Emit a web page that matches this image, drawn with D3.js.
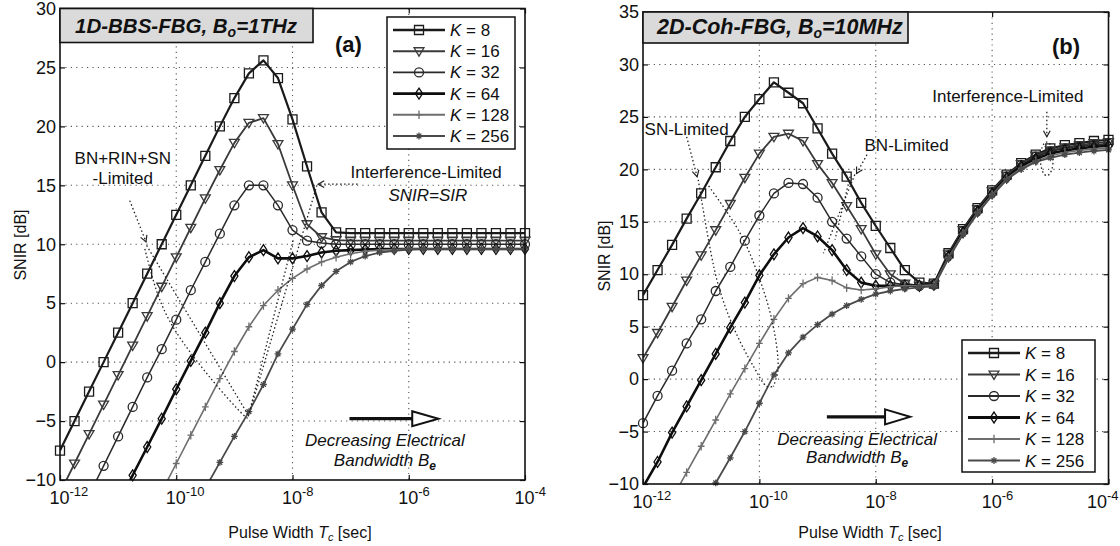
<!DOCTYPE html>
<html><head><meta charset="utf-8">
<script src="https://cdn.jsdelivr.net/npm/d3@7"></script>
<style>
body{margin:0;background:#fff}
svg text{font-family:"Liberation Sans",Arial,sans-serif;fill:#111}
</style>
</head><body>
<svg id="c" width="1120" height="546"></svg>
<script>
// ---------------- DATA ----------------
const tcExp = [-12,-11.75,-11.5,-11.25,-11,-10.75,-10.5,-10.25,-10,-9.75,-9.5,-9.25,-9,-8.75,-8.5,-8.25,-8,-7.75,-7.5,-7.25,-7,-6.75,-6.5,-6.25,-6,-5.75,-5.5,-5.25,-5,-4.75,-4.5,-4.25,-4];
const kLabels = ["8","16","32","64","128","256"];
const xTickExp = [-12,-10,-8,-6,-4];
const yTicksA = [-10,-5,0,5,10,15,20,25,30];
const yTicksB = [-10,-5,0,5,10,15,20,25,30,35];

// Panel (a): 1D-BBS-FBG, Bo = 1 THz  (SNIR dB)
const snirA_K8   = [-7.5,-5.0,-2.5,0.0,2.5,5.0,7.5,10.0,12.5,15.0,17.5,20.0,22.4,24.5,25.6,24.1,20.6,16.6,12.7,11.0,10.95,10.95,10.95,10.95,10.95,10.95,10.95,10.95,10.95,10.95,10.95,10.95,10.95];
const snirA_K16  = [-11.1,-8.6,-6.1,-3.6,-1.1,1.4,3.9,6.4,8.9,11.4,13.9,16.3,18.6,20.3,20.7,18.5,15.0,11.7,10.6,10.35,10.3,10.3,10.3,10.3,10.3,10.3,10.3,10.3,10.3,10.3,10.3,10.3,10.3];
const snirA_K32  = [null,null,-11.3,-8.8,-6.3,-3.8,-1.3,1.1,3.6,6.1,8.5,10.9,13.3,15.0,15.0,13.3,11.2,10.3,10.1,10.0,10.0,10.0,10.0,10.0,10.0,10.0,10.0,10.0,10.0,10.0,10.0,10.0,10.0];
const snirA_K64  = [null,null,null,null,-12.1,-9.6,-7.2,-4.8,-2.3,0.1,2.5,5.0,7.3,8.9,9.5,8.8,8.8,9.0,9.3,9.45,9.5,9.55,9.6,9.6,9.6,9.6,9.6,9.6,9.6,9.6,9.6,9.6,9.6];
const snirA_K128 = [null,null,null,null,null,null,null,-11.0,-8.6,-6.2,-3.8,-1.4,0.9,3.0,4.8,6.1,7.1,7.9,8.5,8.9,9.2,9.4,9.5,9.55,9.6,9.6,9.6,9.6,9.6,9.6,9.6,9.6,9.6];
const snirA_K256 = [null,null,null,null,null,null,null,null,null,null,-10.7,-8.5,-6.3,-4.2,-1.9,0.7,2.8,4.9,6.5,7.7,8.5,9.0,9.3,9.45,9.55,9.6,9.6,9.6,9.6,9.6,9.6,9.6,9.6];

// Panel (b): 2D-Coh-FBG, Bo = 10 MHz  (SNIR dB)
const snirB_K8   = [8.0,10.4,12.8,15.3,17.7,20.2,22.7,25.0,26.7,28.3,27.3,26.3,23.9,21.5,19.3,16.8,14.6,12.5,10.4,9.2,9.1,12.0,14.3,16.3,18.0,19.5,20.6,21.4,22.0,22.3,22.5,22.7,22.8];
const snirB_K16  = [2.0,4.4,6.9,9.4,11.8,14.2,16.7,19.2,21.5,23.1,23.4,22.7,20.5,18.7,16.5,14.3,11.9,10.0,9.1,8.9,9.0,11.9,14.2,16.2,17.9,19.4,20.5,21.3,21.8,22.1,22.3,22.5,22.6];
const snirB_K32  = [-4.2,-1.6,0.8,3.4,5.7,8.4,10.7,13.2,15.6,17.7,18.7,18.6,17.3,15.0,13.4,11.7,10.0,9.2,9.0,8.9,9.0,11.8,14.1,16.1,17.8,19.3,20.4,21.2,21.7,22.0,22.2,22.35,22.45];
const snirB_K64  = [-10.3,-7.9,-5.1,-2.6,-0.1,2.4,4.9,7.3,9.9,11.9,13.5,14.4,13.6,12.3,10.4,9.2,8.9,8.9,8.9,8.9,9.0,11.7,14.0,16.0,17.7,19.2,20.3,21.0,21.5,21.8,22.0,22.15,22.25];
const snirB_K128 = [null,null,-11.4,-8.9,-6.4,-3.9,-1.4,1.0,3.4,5.7,7.7,9.1,9.7,9.4,8.7,8.5,8.6,8.8,8.9,8.9,9.0,11.6,13.9,15.9,17.6,19.1,20.1,20.8,21.3,21.6,21.8,21.95,22.05];
const snirB_K256 = [null,null,null,null,-12.5,-9.9,-7.5,-5.0,-2.3,0.4,2.5,4.0,5.2,6.2,7.0,7.6,8.1,8.4,8.6,8.75,8.85,11.5,13.8,15.8,17.5,19.0,20.0,20.7,21.1,21.4,21.6,21.75,21.85];

// annotation guide curves (log10 Tc, dB)
const annA_loop1 = [[-10.51,9.9],[-8.76,-4.5]];
const annA_loop2 = [[-10.54,9.6],[-10.3,5.5],[-10.02,2.7],[-9.42,-1.3],[-8.84,-4.5],[-8.76,-4.8]];
const annA_loop3 = [[-8.76,-4.6],[-7.98,10.5]];
const annA_loop4 = [[-8.72,-4.0],[-7.58,15.0]];
const annB_snA = [[-10.91,18.7],[-10.33,13.9],[-9.99,9.45],[-9.76,5.0],[-9.68,0.9],[-9.76,-0.7]];
const annB_snB = [[-11.05,19.0],[-10.73,9.45],[-10.45,5.0],[-10.1,1.2],[-9.87,-0.7],[-9.76,-0.7]];
const annB_bn1 = [[-8.36,19.5],[-8.9,12.0]];
const annB_bn2 = [[-8.44,19.3],[-8.7,13.3]];

// ---------------- STYLES ----------------
const styles = [
  {m:"square",  color:"#1a1a1a", w:2.2, ms:4.5},
  {m:"triDown", color:"#3a3a3a", w:1.8, ms:4.3},
  {m:"circle",  color:"#2a2a2a", w:1.5, ms:4.5},
  {m:"diamond", color:"#0d0d0d", w:2.6, ms:4.2},
  {m:"plus",    color:"#6e6e6e", w:1.6, ms:4.2},
  {m:"star",    color:"#4a4a4a", w:1.8, ms:3.4}
];
const markerTypes = {
  square:{draw(c,s){c.moveTo(-s,-s);c.lineTo(s,-s);c.lineTo(s,s);c.lineTo(-s,s);c.closePath();}},
  triDown:{draw(c,s){c.moveTo(-s*1.15,-s*0.8);c.lineTo(s*1.15,-s*0.8);c.lineTo(0,s*1.15);c.closePath();}},
  circle:{draw(c,s){c.moveTo(s,0);c.arc(0,0,s,0,2*Math.PI);}},
  diamond:{draw(c,s){c.moveTo(0,-s*1.3);c.lineTo(s*0.85,0);c.lineTo(0,s*1.3);c.lineTo(-s*0.85,0);c.closePath();}},
  plus:{draw(c,s){c.moveTo(-s*0.8,0);c.lineTo(s*0.8,0);c.moveTo(0,-s);c.lineTo(0,s);}},
  star:{draw(c,s){c.moveTo(-s,0);c.lineTo(s,0);c.moveTo(0,-s);c.lineTo(0,s);const d=s*0.7;c.moveTo(-d,-d);c.lineTo(d,d);c.moveTo(-d,d);c.lineTo(d,-d);}}
};

const svg = d3.select("#c");
const defs = svg.append("defs");

function drawPanel(cfg){
  const x = d3.scaleLog().domain([1e-12,1e-4]).range([cfg.x0,cfg.x1]);
  const y = d3.scaleLinear().domain(cfg.yDomain).range([cfg.y1,cfg.y0]);
  const X = e => x(Math.pow(10,e));
  const g = svg.append("g");
  const clipId = "clip"+cfg.id;
  defs.append("clipPath").attr("id",clipId).append("rect")
    .attr("x",cfg.x0).attr("y",cfg.y0).attr("width",cfg.x1-cfg.x0).attr("height",cfg.y1-cfg.y0);

  // grid
  const grid = g.append("g").attr("stroke","#555").attr("stroke-width",1.1).attr("stroke-dasharray","1.2,4.2");
  grid.selectAll(".gx").data(xTickExp.slice(1,-1)).join("line")
    .attr("x1",d=>X(d)).attr("x2",d=>X(d)).attr("y1",cfg.y0).attr("y2",cfg.y1);
  grid.selectAll(".gy").data(cfg.yTicks.slice(1,-1)).join("line")
    .attr("y1",d=>y(d)).attr("y2",d=>y(d)).attr("x1",cfg.x0).attr("x2",cfg.x1);

  // axes
  const xv = xTickExp.map(e=>Math.pow(10,e));
  const ax = g.append("g").attr("transform",`translate(0,${cfg.y1})`)
    .call(d3.axisBottom(x).tickValues(xv).tickFormat(()=>"10").tickSizeInner(-5).tickSizeOuter(0).tickPadding(11));
  ax.selectAll(".tick text").attr("text-anchor","start")
    .attr("x",(d,i,n)=> (i===n.length-1 && cfg.lastLabelShift) ? cfg.lastLabelShift : -11)
    .attr("font-size",18).attr("fill","#111").style("font-family","Liberation Sans, Arial, sans-serif")
    .each(function(d){
      d3.select(this).append("tspan").attr("dy",-8).attr("font-size",13).text(Math.round(Math.log10(d)));
    });
  g.append("g").attr("transform",`translate(0,${cfg.y0})`)
    .call(d3.axisTop(x).tickValues(xv).tickFormat("").tickSizeInner(-5).tickSizeOuter(0));
  const ay = g.append("g").attr("transform",`translate(${cfg.x0},0)`)
    .call(d3.axisLeft(y).tickValues(cfg.yTicks).tickSizeInner(-5).tickSizeOuter(0).tickPadding(4));
  ay.selectAll(".tick text").attr("font-size",18).attr("fill","#111").style("font-family","Liberation Sans, Arial, sans-serif");
  g.append("g").attr("transform",`translate(${cfg.x1},0)`)
    .call(d3.axisRight(y).tickValues(cfg.yTicks).tickFormat("").tickSizeInner(-5).tickSizeOuter(0));
  g.selectAll(".domain").remove();
  g.selectAll(".tick line").attr("stroke","#111").attr("stroke-width",1.2);

  // series
  const line = d3.line().defined(d=>d[1]!=null).x(d=>X(d[0])).y(d=>y(d[1]));
  const sg = g.append("g");
  cfg.series.forEach((vals,i)=>{
    const st = styles[i];
    const pts = tcExp.map((e,j)=>[e,vals[j]]);
    sg.append("path").attr("d",line(pts)).attr("fill","none").attr("stroke",st.color)
      .attr("stroke-width",st.w).attr("stroke-linejoin","round").attr("clip-path",`url(#${clipId})`);
    const sym = d3.symbol().type(markerTypes[st.m]).size(st.ms);
    sg.append("g").selectAll("path").data(pts.filter(p=>p[1]!=null && p[1]>=cfg.yDomain[0] && p[1]<=cfg.yDomain[1]))
      .join("path").attr("transform",p=>`translate(${X(p[0])},${y(p[1])})`)
      .attr("d",sym()).attr("fill","none").attr("stroke",st.color).attr("stroke-width",1.3);
  });

  // frame
  g.append("rect").attr("x",cfg.x0).attr("y",cfg.y0).attr("width",cfg.x1-cfg.x0).attr("height",cfg.y1-cfg.y0)
    .attr("fill","none").attr("stroke","#111").attr("stroke-width",1.6);

  // title box
  g.append("rect").attr("x",cfg.x0).attr("y",cfg.y0).attr("width",cfg.titleW).attr("height",cfg.titleH)
    .attr("fill","#dadada").attr("stroke","#111").attr("stroke-width",1.6);
  const tt = g.append("text").attr("x",cfg.x0+cfg.titlePad).attr("y",cfg.titleBase)
    .attr("font-size",cfg.titleSize).attr("font-style","italic").attr("font-weight","bold");
  tt.append("tspan").text(cfg.title1);
  tt.append("tspan").attr("dy",4).attr("font-size",14).text("o");
  tt.append("tspan").attr("dy",-4).text(cfg.title2);
  g.append("text").attr("x",cfg.tagX).attr("y",cfg.tagY).attr("font-size",22).attr("font-weight","bold").text(cfg.tag);

  // axis labels
  const xl = g.append("text").attr("x",cfg.xLabelX).attr("y",538).attr("text-anchor","middle").attr("font-size",16);
  xl.append("tspan").text("Pulse Width ");
  xl.append("tspan").attr("font-style","italic").text("T");
  xl.append("tspan").attr("font-style","italic").attr("font-size",11).attr("dy",3).text("c");
  xl.append("tspan").attr("dy",-3).text(" [sec]");
  g.append("text").attr("transform",`translate(${cfg.yLabelX},${cfg.yLabelY}) rotate(-90)`)
    .attr("text-anchor","middle").attr("font-size",16).text("SNIR [dB]");

  // legend
  const L = cfg.legend;
  const lg = g.append("g");
  lg.append("rect").attr("x",L.x).attr("y",L.y).attr("width",L.w).attr("height",L.h)
    .attr("fill","#fff").attr("stroke","#111").attr("stroke-width",1.5);
  kLabels.forEach((k,i)=>{
    const st = styles[i];
    const yy = L.y+13+i*L.dy;
    lg.append("line").attr("x1",L.x+6).attr("x2",L.x+58).attr("y1",yy).attr("y2",yy)
      .attr("stroke",st.color).attr("stroke-width",st.w+0.3);
    lg.append("path").attr("transform",`translate(${L.x+32},${yy})`)
      .attr("d",d3.symbol().type(markerTypes[st.m]).size(st.ms)()).attr("fill","none").attr("stroke",st.color).attr("stroke-width",1.3);
    const t = lg.append("text").attr("x",L.x+63).attr("y",yy+6).attr("font-size",17);
    t.append("tspan").attr("font-style","italic").text("K");
    t.append("tspan").text(" = "+k);
  });

  // "Decreasing Electrical Bandwidth" hollow arrow
  const A = cfg.arrow;
  const ay0 = y(A.v);
  g.append("line").attr("x1",X(A.e0)).attr("x2",X(A.e1)).attr("y1",ay0).attr("y2",ay0).attr("stroke","#111").attr("stroke-width",3.2);
  g.append("path").attr("d",`M${X(A.e1)},${ay0-7.5}L${X(A.e2)},${ay0}L${X(A.e1)},${ay0+7.5}Z`)
    .attr("fill","#fff").attr("stroke","#111").attr("stroke-width",2);
  const d1 = g.append("text").attr("x",X(A.tx)).attr("y",ay0+A.t1).attr("text-anchor","middle").attr("font-size",17).attr("font-style","italic");
  d1.text("Decreasing Electrical");
  const d2 = g.append("text").attr("x",X(A.tx)).attr("y",ay0+A.t2).attr("text-anchor","middle").attr("font-size",17).attr("font-style","italic");
  d2.append("tspan").text("Bandwidth B");
  d2.append("tspan").attr("font-size",12).attr("dy",4).attr("font-weight","bold").text("e");

  return {g,X,y,clipId};
}

function dotted(p, pts){
  p.g.append("path").attr("d",d3.line().curve(d3.curveCatmullRom).x(d=>p.X(d[0])).y(d=>p.y(d[1]))(pts))
    .attr("fill","none").attr("stroke","#222").attr("stroke-width",1.3).attr("stroke-dasharray","1.5,2.5");
}
function dottedArrow(p, from, to){
  const x0=p.X(from[0]), y0=p.y(from[1]), x1=p.X(to[0]), y1=p.y(to[1]);
  p.g.append("line").attr("x1",x0).attr("y1",y0).attr("x2",x1).attr("y2",y1)
    .attr("stroke","#222").attr("stroke-width",1.3).attr("stroke-dasharray","1.5,2.5");
  const a = Math.atan2(y1-y0,x1-x0), L=7, w=0.5;
  p.g.append("path").attr("d",`M${x1-L*Math.cos(a-w)},${y1-L*Math.sin(a-w)}L${x1},${y1}L${x1-L*Math.cos(a+w)},${y1-L*Math.sin(a+w)}`)
    .attr("fill","none").attr("stroke","#222").attr("stroke-width",1.2);
}
function label(p, e, v, txt, opts={}){
  const t = p.g.append("text").attr("x",p.X(e)).attr("y",p.y(v)).attr("text-anchor","middle")
    .attr("font-size",opts.size||17).attr("font-style",opts.italic?"italic":"normal");
  t.text(txt);
  return t;
}

// ---------------- PANEL (a) ----------------
const pa = drawPanel({
  id:"a", x0:60, x1:525, y0:8.5, y1:480, yDomain:[-10,30], yTicks:yTicksA,
  series:[snirA_K8,snirA_K16,snirA_K32,snirA_K64,snirA_K128,snirA_K256],
  titleW:253, titleH:34, titlePad:15, titleBase:33, titleSize:20.5, title1:"1D-BBS-FBG, B", title2:"=1THz",
  tag:"(a)", tagX:335, tagY:52, xLabelX:300, yLabelX:26, yLabelY:245,
  legend:{x:387, y:17, w:128, h:132, dy:21.2},
  arrow:{e0:-7.02, e1:-5.94, e2:-5.49, v:-4.8, tx:-6.41, t1:27.5, t2:47.5}
});
dottedArrow(pa,[-10.8,13.7],[-10.52,10.2]);
dotted(pa,annA_loop1); dotted(pa,annA_loop2); dotted(pa,annA_loop3); dotted(pa,annA_loop4);
dottedArrow(pa,[-6.88,15.1],[-7.56,15.1]);
label(pa,-10.92,16.8,"BN+RIN+SN");
label(pa,-10.92,15.1,"-Limited");
label(pa,-5.7,15.6,"Interference-Limited");
label(pa,-5.67,13.7,"SNIR=SIR",{italic:true});

// ---------------- PANEL (b) ----------------
const pb = drawPanel({
  id:"b", x0:643, x1:1108.5, y0:12, y1:484, yDomain:[-10,35], yTicks:yTicksB,
  series:[snirB_K8,snirB_K16,snirB_K32,snirB_K64,snirB_K128,snirB_K256],
  titleW:265, titleH:31, titlePad:14, titleBase:34, titleSize:21.5, title1:"2D-Coh-FBG, B", title2:"=10MHz",
  tag:"(b)", tagX:1052, tagY:54, xLabelX:870, yLabelX:610, yLabelY:256, lastLabelShift:-22,
  legend:{x:962, y:340, w:133, h:132, dy:21.5},
  arrow:{e0:-8.84, e1:-7.84, e2:-7.41, v:-3.6, tx:-8.32, t1:28, t2:46}
});
dottedArrow(pb,[-11.25,23.1],[-11.07,19.3]);
dotted(pb,annB_snA); dotted(pb,annB_snB);
dottedArrow(pb,[-8.15,21.4],[-8.33,19.6]);
dotted(pb,annB_bn1); dotted(pb,annB_bn2);
dottedArrow(pb,[-5.06,25.5],[-5.06,23.1]);
{
  const cx = pb.X(-5.06), rx = pb.X(-4.95)-cx, cy = pb.y(21.0), ry = pb.y(19.4)-cy;
  pb.g.append("ellipse").attr("cx",cx).attr("cy",cy).attr("rx",rx).attr("ry",ry)
    .attr("fill","none").attr("stroke","#222").attr("stroke-width",1.3).attr("stroke-dasharray","1.5,2.5");
}
label(pb,-11.25,23.3,"SN-Limited");
label(pb,-7.47,21.75,"BN-Limited");
label(pb,-5.73,26.4,"Interference-Limited");
</script>
</body></html>
